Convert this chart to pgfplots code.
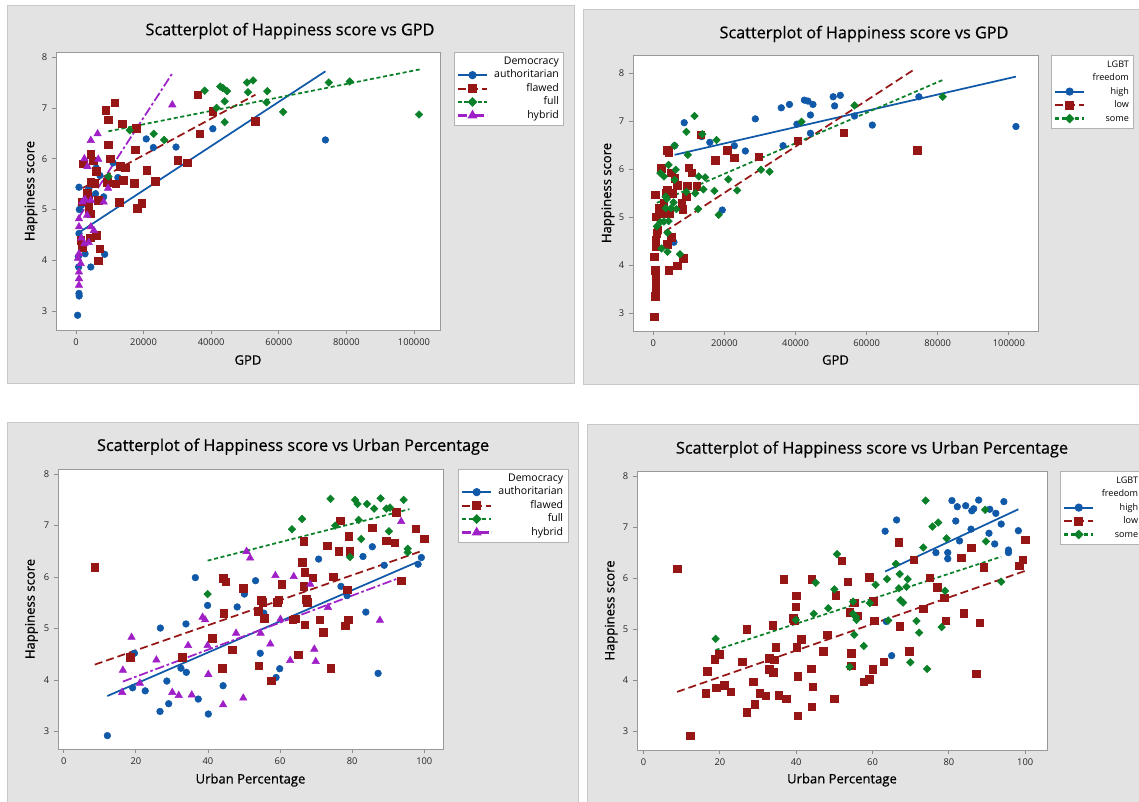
\documentclass[border=0pt]{standalone}
\usepackage{fontspec}
\setmainfont{Open Sans}
\newfontfamily\semib[FakeBold=0.6]{Open Sans}
\usepackage{pgfplots}
\pgfplotsset{compat=1.18}

\definecolor{cblue}{RGB}{16,88,168}
\definecolor{cred}{RGB}{150,22,22}
\definecolor{cgreen}{RGB}{10,128,40}
\definecolor{cpurple}{RGB}{160,32,200}
\definecolor{panel}{RGB}{227,227,227}
\definecolor{pborder}{RGB}{200,200,200}

\pgfplotsset{
  mini/.style={
    scale only axis, anchor=south west,
    axis background/.style={fill=white},
    axis line style={draw=black!40, line width=0.6pt},
    tick style={draw=black!45, line width=0.6pt},
    major tick length=3pt, tick align=outside, tick pos=left,
    ticklabel style={font=\fontsize{7}{8}\selectfont, text=black!85},
    label style={font=\semib\fontsize{9.8}{11}\selectfont},
    ytick={3,4,5,6,7,8},
    /pgf/number format/assume math mode=true,
    scaled x ticks=false,
    xticklabel style={/pgf/number format/fixed, /pgf/number format/1000 sep={}},
    legend cell align=right,
    legend style={anchor=north west, draw=black!30, fill=white,
      font=\fontsize{7.9}{9}\selectfont, inner xsep=2pt, inner ysep=2pt,
      row sep=0pt, column sep=3pt,
      nodes={inner xsep=1.5pt, inner ysep=1.6pt, text height=5.4pt, text depth=1.5pt}},
  },
  lgbt/.style={legend style={font=\fontsize{6.8}{8}\selectfont, column sep=4pt}},
  pA/.style={only marks, mark=*, color=cblue, mark size=2.5pt, forget plot},
  pB/.style={only marks, mark=square*, color=cred, mark size=2.8pt, forget plot},
  pC/.style={only marks, mark=square*, mark options={rotate=45}, color=cgreen, mark size=2pt, forget plot},
  pD/.style={only marks, mark=triangle*, color=cpurple, mark size=3.2pt, forget plot},
  lgA/.style={legend image code/.code={\draw[cblue,line width=1.6pt](0pt,0pt)--(22pt,0pt);
    \draw[cblue,solid] plot[only marks,mark=*,mark size=2.4pt] coordinates {(11pt,0pt)};}},
  lgB/.style={legend image code/.code={\draw[cred,line width=1.6pt,dash pattern=on 6pt off 3pt](0pt,0pt)--(22pt,0pt);
    \draw[cred,solid] plot[only marks,mark=square*,mark size=2.7pt] coordinates {(11pt,0pt)};}},
  lgC/.style={legend image code/.code={\draw[cgreen,line width=1.6pt,dash pattern=on 3pt off 2pt](0pt,0pt)--(22pt,0pt);
    \draw[cgreen,solid] plot[only marks,mark=square*,mark options={rotate=45},mark size=1.95pt] coordinates {(11pt,0pt)};}},
  lgD/.style={legend image code/.code={\draw[cpurple,line width=1.6pt,dash pattern=on 7pt off 2pt on 2pt off 2pt](0pt,0pt)--(22pt,0pt);
    \draw[cpurple,solid] plot[only marks,mark=triangle*,mark size=3.1pt] coordinates {(11pt,0pt)};}},
  lA/.style={cblue, line width=1.3pt, no markers, lgA},
  lB/.style={cred, line width=1.3pt, dash pattern=on 6pt off 3pt, no markers, lgB},
  lC/.style={cgreen, line width=1.3pt, dash pattern=on 3pt off 2pt, no markers, lgC},
  lD/.style={cpurple, line width=1.3pt, dash pattern=on 7pt off 2pt on 2pt off 2pt, no markers, lgD},
}

\begin{document}
\begin{tikzpicture}
\useasboundingbox (0,0) rectangle (854.25pt,-600.75pt);
\fill[white] (0,0) rectangle (854.25pt,-600.75pt);
\filldraw[fill=panel, draw=pborder, line width=0.75pt] (5.25pt,-3.75pt) rectangle (430.5pt,-287.25pt);
\filldraw[fill=panel, draw=pborder, line width=0.75pt] (437.25pt,-6.75pt) rectangle (858pt,-288pt);
\filldraw[fill=panel, draw=pborder, line width=0.75pt] (5.25pt,-316.5pt) rectangle (433.5pt,-605pt);
\filldraw[fill=panel, draw=pborder, line width=0.75pt] (440.25pt,-318pt) rectangle (858pt,-605pt);

\node[font=\semib\fontsize{12.2}{14}\selectfont] at (217.5pt,-23.25pt) {Scatterplot of Happiness score vs GPD};
\node[font=\semib\fontsize{12.2}{14}\selectfont] at (648pt,-25.5pt) {Scatterplot of Happiness score vs GPD};
\node[font=\semib\fontsize{12.2}{14}\selectfont] at (219.8pt,-335pt) {Scatterplot of Happiness score vs Urban Percentage};
\node[font=\semib\fontsize{12.2}{14}\selectfont] at (654pt,-337pt) {Scatterplot of Happiness score vs Urban Percentage};

% ---------- top left: GPD by Democracy
\begin{axis}[mini, at={(42pt,-247.5pt)}, width=288pt, height=208.5pt,
  xmin=-5900, xmax=107700, ymin=2.63, ymax=8.1,
  xtick={0,20000,40000,60000,80000,100000},
  xlabel={GPD}, ylabel={Happiness score},
  xlabel style={at={(axis description cs:0.5,-0.108)}, anchor=center},
  ylabel style={at={(axis description cs:-0.065,0.5)}, anchor=center},
  legend style={at={(1.036,1)}}]
\addlegendimage{empty legend}\addlegendentry{Democracy}
\addplot[pA] table {
500 2.92
900 3.35
950 3.30
900 5.44
1000 5.00
900 4.53
800 3.87
2700 4.13
4400 3.87
5800 5.31
6000 5.82
7100 5.67
8200 5.25
8500 4.12
11000 5.92
12400 5.63
20800 6.39
22900 6.22
29600 6.23
40500 6.59
73800 6.37
3800 5.41
1600 5.08
700 4.07
};
\addplot[lA] coordinates {(500,4.53) (73800,7.72)};
\addlegendentry{authoritarian}
\addplot[pB] table {
8800 6.95
9500 6.77
11500 7.10
13700 6.69
17900 6.60
9600 6.28
10100 6.00
17500 6.18
2200 5.90
4400 6.09
5100 5.96
6000 5.75
4400 5.54
5500 5.52
9300 5.54
11800 5.51
14000 5.58
13100 5.85
14600 5.82
17300 5.52
21000 5.77
23500 5.56
30100 5.97
32900 5.92
36700 6.49
36100 7.26
40500 6.93
53100 6.74
12800 5.14
18100 5.03
19400 5.12
3400 5.33
3800 5.18
3800 5.02
4400 4.92
6600 5.18
1900 5.15
6000 4.49
4200 4.44
7100 4.23
6600 3.99
1900 4.26
1400 4.40
};
\addplot[lB] coordinates {(1900,5.42) (53100,7.26)};
\addlegendentry{flawed}
\addplot[pC] table {
9600 5.65
15900 6.56
23000 6.49
26100 6.37
38100 7.34
41600 7.00
42700 7.42
43500 7.39
44700 7.33
44000 7.13
44000 6.72
50600 7.50
52400 7.54
50900 7.31
56600 7.33
56400 7.11
61300 6.92
74800 7.50
81000 7.52
101500 6.87
};
\addplot[lC] coordinates {(9600,6.54) (101900,7.76)};
\addlegendentry{full}
\addplot[pD] table {
4400 6.36
6400 6.49
2500 6.00
3400 5.85
6600 5.99
9500 5.42
8200 5.15
1900 5.15
2700 5.20
4400 5.18
900 4.82
900 4.66
3300 4.89
4400 4.66
5300 4.59
1600 4.44
3800 4.35
2500 4.33
900 4.13
1400 3.94
900 3.77
900 3.64
900 3.51
600 4.04
28500 7.06
};
\addplot[lD] coordinates {(900,4.85) (28800,7.71)};
\addlegendentry{hybrid}
\end{axis}

% ---------- top right: GPD by LGBT freedom
\begin{axis}[mini, lgbt, at={(474.75pt,-248.25pt)}, width=303.75pt, height=207pt,
  xmin=-5700, xmax=108200, ymin=2.63, ymax=8.38,
  xtick={0,20000,40000,60000,80000,100000},
  xlabel={GPD}, ylabel={Happiness score},
  xlabel style={at={(axis description cs:0.5,-0.105)}, anchor=center},
  ylabel style={at={(axis description cs:-0.062,0.5)}, anchor=center},
  legend style={at={(1.032,1)}}]
\addlegendimage{empty legend}\addlegendentry{LGBT}
\addlegendimage{empty legend}\addlegendentry{freedom}
\addplot[pA] table {
8700 6.97
6000 6.49
13600 6.68
15900 6.56
22800 6.49
25900 6.38
28700 7.05
36000 7.28
38300 7.35
36500 6.49
40400 6.94
42500 7.44
43500 7.42
44200 7.13
44900 7.35
44200 6.75
50600 7.51
52600 7.54
51000 7.32
56600 7.11
61600 6.92
74700 7.51
102000 6.89
19400 5.15
5800 4.48
};
\addplot[lA] coordinates {(6000,6.30) (102000,7.93)};
\addlegendentry{high}
\addplot[pB] table {
300 2.93
500 3.35
700 3.42
700 3.56
700 3.69
700 3.83
500 3.90
300 4.18
700 4.39
700 4.53
1000 4.67
1300 4.74
700 5.01
500 5.47
1500 5.19
2300 6.02
4300 6.35
4000 6.40
2500 5.08
3000 5.29
3500 5.50
4000 5.57
5000 5.93
5300 5.50
6000 5.81
6800 5.67
4500 5.08
5000 4.58
4000 4.44
4300 3.90
6700 3.99
8500 4.15
8300 5.17
8000 5.29
9300 5.43
9500 5.66
10000 6.03
10800 5.93
12200 5.65
13400 6.72
17400 6.19
20800 6.40
22800 6.24
29600 6.26
40700 6.59
53500 6.76
74300 6.40
};
\addplot[lB] coordinates {(300,4.56) (73000,8.06)};
\addlegendentry{low}
\addplot[pC] table {
1000 4.81
2000 5.92
3000 5.85
2000 4.90
3000 4.91
2300 4.35
4000 4.28
4300 6.09
3500 5.43
3800 5.38
3500 5.19
4300 4.92
4000 4.68
5000 5.19
5700 5.31
6300 5.99
6000 5.78
6000 6.49
6500 5.17
7500 4.23
9300 6.78
9700 6.30
9300 5.53
11600 7.11
11800 5.50
12600 5.17
12800 5.85
13800 6.73
14100 5.58
14600 5.83
17200 5.55
17800 6.61
18400 5.05
21100 5.79
23600 5.56
30300 5.99
32700 5.95
41700 6.99
56600 7.33
81400 7.51
};
\addplot[lC] coordinates {(1000,5.30) (81400,7.86)};
\addlegendentry{some}
\end{axis}

% ---------- bottom left: Urban by Democracy
\begin{axis}[mini, at={(43.5pt,-561.75pt)}, width=288.75pt, height=210pt,
  xmin=-1.6, xmax=105.2, ymin=2.66, ymax=8.1,
  xtick={0,20,40,60,80,100},
  xlabel={Urban Percentage}, ylabel={Happiness score},
  xlabel style={at={(axis description cs:0.5,-0.111)}, anchor=center},
  ylabel style={at={(axis description cs:-0.069,0.5)}, anchor=center},
  legend style={at={(1.039,1)}}]
\addlegendimage{empty legend}\addlegendentry{Democracy}
\addplot[pA] table {
12.1 2.92
19.1 3.85
19.6 4.52
22.6 3.79
26.8 5.01
26.7 3.39
28.6 3.98
29.1 3.54
32.5 4.23
33.9 5.09
34.0 4.15
36.5 5.99
37.3 3.63
39.9 5.45
40.1 3.34
44.2 3.89
48.1 5.42
50.1 5.67
53.2 5.93
54.5 4.52
55.5 5.30
58.9 4.05
59.9 4.22
70.7 6.35
76.9 5.82
78.6 5.64
83.0 6.40
83.8 5.32
85.6 6.59
87.2 4.13
88.9 6.23
98.3 6.25
99.2 6.38
};
\addplot[lA] coordinates {(12.1,3.69) (98.3,6.30)};
\addlegendentry{authoritarian}
\addplot[pB] table {
8.6 6.19
18.5 4.44
32.9 4.44
41.2 4.81
44.0 4.23
44.2 5.98
45.0 5.91
44.4 5.30
46.8 4.59
49.8 5.78
54.0 5.34
54.1 4.28
54.8 5.55
55.2 5.51
55.6 5.20
57.5 3.99
59.2 5.51
59.6 5.56
60.4 5.86
63.5 5.17
64.2 5.19
65.1 4.49
66.1 6.29
66.6 6.70
66.6 5.82
66.9 6.09
66.9 5.07
67.3 5.57
67.6 5.51
69.0 5.99
71.0 5.17
72.0 4.93
73.1 6.61
74.1 4.23
74.8 6.01
76.3 6.50
76.7 7.09
78.6 5.75
78.9 5.17
79.1 6.79
79.3 6.50
78.1 5.05
85.6 6.96
89.5 6.71
91.8 6.67
92.3 7.26
93.6 5.93
97.7 6.94
100.0 6.74
};
\addplot[lB] coordinates {(8.6,4.30) (99.0,6.50)};
\addlegendentry{flawed}
\addplot[pC] table {
39.9 5.67
63.3 6.93
66.1 7.13
74.0 7.52
75.3 7.00
79.4 6.39
80.8 7.50
81.5 7.42
81.8 7.11
82.5 6.74
84.1 7.42
86.1 7.33
87.9 7.53
89.5 7.33
90.2 6.89
90.5 7.35
94.3 7.50
95.4 6.55
95.4 6.48
};
\addplot[lC] coordinates {(39.9,6.32) (95.9,7.32)};
\addlegendentry{full}
\addplot[pD] table {
16.2 3.76
16.4 4.19
18.8 4.83
21.1 3.94
25.7 4.39
30.1 3.76
31.9 3.70
34.5 4.67
35.5 3.71
38.5 5.22
39.2 5.17
39.9 4.67
40.1 4.11
44.2 3.52
47.8 4.91
49.8 3.65
50.7 6.50
51.7 6.37
54.6 4.91
57.3 4.70
58.7 6.03
60.1 5.18
62.8 4.38
63.8 6.01
68.4 5.86
69.5 4.60
69.9 4.36
73.3 5.41
87.7 5.16
93.6 7.08
};
\addplot[lD] coordinates {(16.4,3.97) (93.3,5.99)};
\addlegendentry{hybrid}
\end{axis}

% ---------- bottom right: Urban by LGBT freedom
\begin{axis}[mini, lgbt, at={(477.75pt,-562.5pt)}, width=307.5pt, height=209.25pt,
  xmin=-1.7, xmax=105.7, ymin=2.64, ymax=8.11,
  xtick={0,20,40,60,80,100},
  xlabel={Urban Percentage}, ylabel={Happiness score},
  xlabel style={at={(axis description cs:0.5,-0.1075)}, anchor=center},
  ylabel style={at={(axis description cs:-0.063,0.5)}, anchor=center},
  legend style={at={(1.032,1)}}]
\addlegendimage{empty legend}\addlegendentry{LGBT}
\addlegendimage{empty legend}\addlegendentry{freedom}
\addplot[pA] table {
63.3 6.93
66.3 7.15
63.6 5.16
65.0 4.49
76.6 6.51
79.7 6.51
79.7 6.39
80.8 7.53
81.8 7.13
82.2 7.41
82.8 6.74
84.4 7.43
85.8 6.97
86.0 7.33
86.5 7.37
87.8 7.54
90.5 6.89
90.7 7.36
92.0 6.68
92.3 7.28
93.7 7.07
94.4 7.51
95.6 6.56
95.6 6.51
98.2 6.94
};
\addplot[lA] coordinates {(63.3,6.14) (98.2,7.36)};
\addlegendentry{high}
\addplot[pB] table {
8.8 6.19
12.3 2.92
16.3 3.75
16.7 4.18
18.7 4.42
19.1 3.86
19.8 4.52
21.2 3.91
22.9 3.78
25.9 4.37
27.0 5.01
27.0 3.38
28.7 3.98
29.2 3.54
30.4 3.75
32.0 3.70
32.9 4.44
32.9 4.22
33.9 5.09
34.0 4.16
34.3 4.41
34.6 4.65
35.4 3.71
36.7 5.99
37.4 3.64
39.2 5.22
39.5 5.17
39.9 5.45
40.0 5.66
40.2 4.65
40.4 4.09
40.4 3.31
41.3 4.81
43.9 4.23
44.1 3.49
44.1 5.99
44.3 3.88
47.1 4.58
48.1 4.90
50.0 3.64
50.4 5.67
51.9 6.35
53.5 5.94
54.0 5.34
54.4 4.54
54.4 4.29
55.2 5.53
56.0 5.27
57.7 3.98
59.1 6.03
59.1 4.03
60.1 4.22
60.2 5.56
60.5 5.17
62.9 4.37
66.9 6.71
67.1 5.07
69.6 4.58
70.8 6.37
73.3 5.41
75.0 6.02
76.9 5.83
78.8 5.63
79.2 5.17
83.3 6.41
83.9 5.32
85.8 6.61
87.2 4.13
88.1 5.14
89.1 6.22
98.4 6.25
99.3 6.37
100.0 6.76
};
\addplot[lB] coordinates {(8.8,3.78) (100.3,6.16)};
\addlegendentry{low}
\addplot[pC] table {
18.9 4.82
39.9 5.19
44.6 5.31
45.1 5.92
48.4 5.42
50.0 5.79
50.7 6.48
54.0 4.27
54.9 5.55
54.9 5.31
55.2 4.90
55.6 5.25
55.8 5.19
57.7 4.68
59.3 5.52
60.8 5.88
63.8 5.99
64.1 5.18
66.1 6.29
66.9 5.81
67.1 6.09
67.3 5.58
68.0 5.53
68.9 5.84
69.2 5.99
69.9 4.36
71.5 5.17
72.2 4.94
73.3 6.61
73.9 7.53
74.3 4.23
75.7 7.02
77.2 7.10
78.1 5.05
79.0 5.76
79.4 6.79
89.5 7.35
89.7 6.73
93.7 5.94
};
\addplot[lC] coordinates {(18.9,4.60) (93.7,6.43)};
\addlegendentry{some}
\end{axis}
\end{tikzpicture}
\end{document}
